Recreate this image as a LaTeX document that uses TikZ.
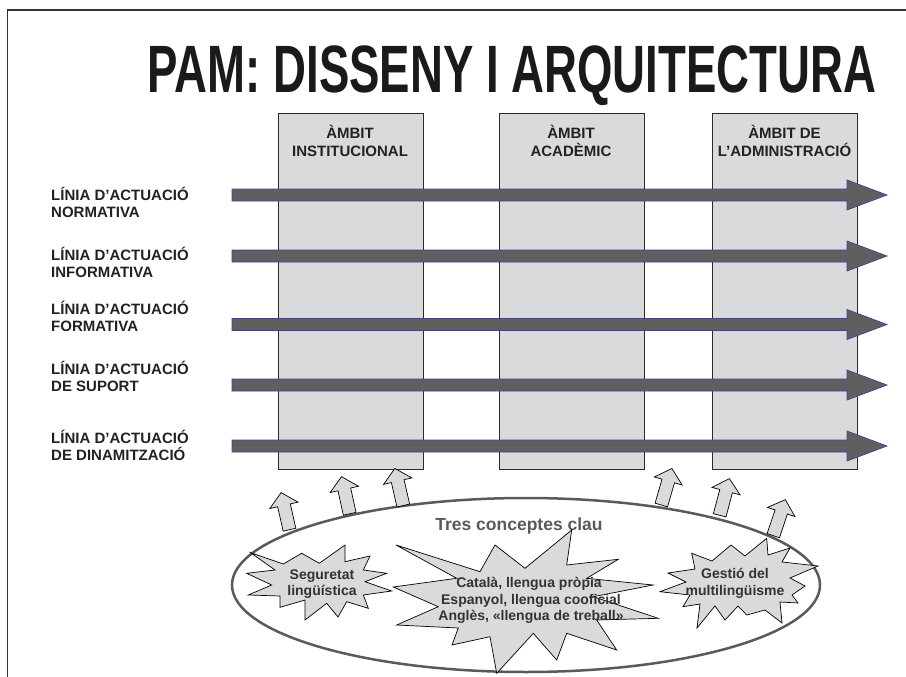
\documentclass[tikz,border=0pt]{standalone}
\usepackage{fontspec}
\setmainfont{Liberation Sans}
\usetikzlibrary{shapes.geometric}
\definecolor{txt}{HTML}{222222}
\definecolor{titlec}{HTML}{1A1A1A}
\definecolor{boxfill}{HTML}{D9DADB}
\definecolor{boxline}{HTML}{2B2B2B}
\definecolor{arrfill}{HTML}{5F5F61}
\definecolor{arrline}{HTML}{40409A}
\definecolor{ellc}{HTML}{5A5A5A}
\definecolor{framec}{HTML}{333333}
\definecolor{startc}{HTML}{333333}
\begin{document}
\begin{tikzpicture}[x=1pt,y=-1pt,
  lbl/.style={anchor=base west, inner sep=0pt, font=\bfseries\fontsize{15}{17}\selectfont, text=txt},
  boxtxt/.style={anchor=base, inner sep=0pt, font=\bfseries\fontsize{15}{18}\selectfont, text=txt},
  ambit/.style={draw=boxline, fill=boxfill, line width=1pt, anchor=north west, minimum width=145pt, minimum height=356pt, inner sep=0pt},
  hline/.style={draw=arrline, fill=arrfill, line width=0.7pt},
  uparr/.style={draw=black, fill=boxfill, line width=0.7pt},
  burst/.style={draw=black, fill=boxfill, line width=0.7pt},
  startxt/.style={anchor=base, inner sep=0pt, font=\bfseries\fontsize{14}{16}\selectfont, text=startc},
]
\useasboundingbox (0,0) rectangle (906,677);
% frame
\draw[line width=1.5pt, draw=framec] (7.5,677) -- (7.5,10) -- (906,10);
% title
\node[anchor=base, inner sep=0pt, font=\bfseries\fontsize{67}{70}\selectfont, text=titlec] (title) at (512,93) {\scalebox{0.68}[1]{PAM: DISSENY I ARQUITECTURA}};
% boxes
\node[ambit] (b1) at (278,113) {};
\node[ambit] (b2) at (498.5,113) {};
\node[ambit] (b3) at (712,113) {};
\node[boxtxt] (b1t1) at (350,139) {ÀMBIT};
\node[boxtxt] (b1t2) at (350,157) {INSTITUCIONAL};
\node[boxtxt] (b2t1) at (571,139) {ÀMBIT};
\node[boxtxt] (b2t2) at (571,157) {ACADÈMIC};
\node[boxtxt] (b3t1) at (784.5,139) {ÀMBIT DE};
\node[boxtxt] (b3t2) at (784.5,157) {L’ADMINISTRACIÓ};
% horizontal arrows
\foreach \c in {195,256,324.5,385,446}{
  \draw[hline] (232,\c-6) -- (847,\c-6) -- (847,\c-15) -- (887,\c) -- (847,\c+15) -- (847,\c+6) -- (232,\c+6) -- cycle;
}
% labels
\node[lbl] (l1a) at (51,200.5) {LÍNIA D’ACTUACIÓ};
\node[lbl] (l1b) at (51,217.5) {NORMATIVA};
\node[lbl] (l2a) at (51,260.5) {LÍNIA D’ACTUACIÓ};
\node[lbl] (l2b) at (51,277.5) {INFORMATIVA};
\node[lbl] (l3a) at (51,314.5) {LÍNIA D’ACTUACIÓ};
\node[lbl] (l3b) at (51,331.5) {FORMATIVA};
\node[lbl] (l4a) at (51,374.5) {LÍNIA D’ACTUACIÓ};
\node[lbl] (l4b) at (51,391.5) {DE SUPORT};
\node[lbl] (l5a) at (51,443) {LÍNIA D’ACTUACIÓ};
\node[lbl] (l5b) at (51,460) {DE DINAMITZACIÓ};
% ellipse
\node[ellipse, draw=ellc, fill=white, line width=2.5pt, minimum width=588pt, minimum height=174pt, inner sep=0pt] (ell) at (526,585) {};
\node[anchor=base, inner sep=0pt, font=\bfseries\fontsize{17.5}{20}\selectfont, text=ellc] (tres) at (519,530) {Tres conceptes clau};
% up arrows
\foreach \px/\py/\ang in {289.5/529.7/12.8, 349.7/513.8/12.4, 403.3/505.5/12.9, 661.3/505/-16.2, 719.7/515.3/-14.8, 773.3/535.7/-18.5}{
  \begin{scope}[shift={(\px,\py)}, rotate=\ang]
    \draw[uparr] (-6.5,0) -- (-6.5,-25) -- (-14.5,-25) -- (0,-38) -- (14.5,-25) -- (6.5,-25) -- (6.5,0) -- cycle;
  \end{scope}
}
% star 1
\draw[burst] (250.7,552.7) -- (283.3,564) -- (301.7,553.3) -- (319.3,563.3) -- (345,545) -- (345,561.7) -- (370,556) -- (363.3,570) -- (386.7,573.3) -- (365,581.7) -- (391.7,591) -- (363.3,595) -- (368.3,608.3) -- (346.7,601.7) -- (338,617) -- (326.7,603.3) -- (305,620) -- (305,600) -- (280,607.3) -- (280,596) -- (248.3,595) -- (271.7,585) -- (246.7,573.3) -- (275,570) -- cycle;
% star 2
\draw[burst] (396,545) -- (480,571.7) -- (495,545) -- (525,568.3) -- (571.7,530) -- (566.7,565) -- (618.3,559.3) -- (586.7,578.3) -- (653,585) -- (593.3,596.7) -- (658.3,618.3) -- (596.7,620) -- (616.7,650) -- (566.7,633.3) -- (556.7,660) -- (533.3,633.3) -- (496.7,673.3) -- (490,636.7) -- (452,645) -- (458.3,628) -- (396.7,625) -- (438.3,606.7) -- (393.3,587) -- (456.7,578.3) -- cycle;
% star 3
\draw[burst] (691.7,553.3) -- (712,561) -- (731,545) -- (745,556) -- (766.7,538.3) -- (768,555) -- (790,548) -- (782,562) -- (818,566) -- (790,578) -- (805,586) -- (792,595) -- (798,603) -- (780,602) -- (782,623) -- (765,610) -- (746.7,615) -- (738,606) -- (725,620) -- (715,606) -- (697,628) -- (700,604) -- (683,606.7) -- (690,595) -- (660,591.7) -- (686,582) -- (668,573) -- (695,569) -- cycle;
% star texts
\node[startxt] (s1a) at (322,579.3) {Seguretat};
\node[startxt] (s1b) at (322,595) {lingüística};
\node[startxt] (s2a) at (529,587.3) {Català, llengua pròpia};
\node[startxt] (s2b) at (531,604) {Espanyol, llengua cooficial};
\node[startxt] (s2c) at (531,620.7) {Anglès, «llengua de treball»};
\node[startxt] (s3a) at (735,578.3) {Gestió del};
\node[startxt] (s3b) at (735,595) {multilingüisme};
\end{tikzpicture}
\end{document}
